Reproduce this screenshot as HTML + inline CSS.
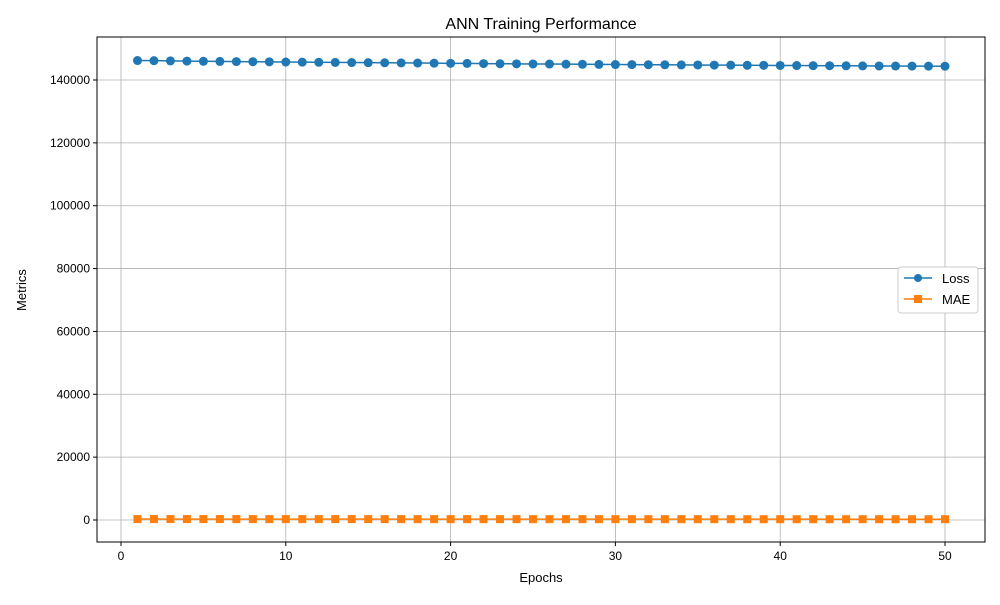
<!DOCTYPE html>
<html><head><meta charset="utf-8"><style>
body{margin:0;background:#fff;font-family:"Liberation Sans","DejaVu Sans",sans-serif;}
text{font-family:"Liberation Sans","DejaVu Sans",sans-serif;}
</style></head><body>
<svg id="chart" width="1000" height="600">
<rect x="0" y="0" width="1000" height="600" fill="#fff"/>
<g id="grid"></g><g id="axes"></g><g id="series"></g>
<text x="541" y="29" text-anchor="middle" font-size="16">ANN Training Performance</text>
<text x="541" y="582" text-anchor="middle" font-size="13">Epochs</text>
<text x="26" y="290" text-anchor="middle" font-size="13" transform="rotate(-90 26 290)">Metrics</text>
<g>
<rect x="898" y="267" width="80" height="46" fill="#fff" stroke="#ccc" rx="3"/>
<line x1="904" y1="278" x2="932" y2="278" stroke="#1f77b4" stroke-width="1.5"/><circle cx="918" cy="278" r="4" fill="#1f77b4"/>
<text x="942" y="283" font-size="13">Loss</text>
<line x1="904" y1="299" x2="932" y2="299" stroke="#ff7f0e" stroke-width="1.5"/><rect x="914" y="295" width="8" height="8" fill="#ff7f0e"/>
<text x="942" y="304" font-size="13">MAE</text>
</g>
</svg>
<script>
const epochs=[];for(let i=1;i<=50;i++)epochs.push(i);
const lossValues=[146200,146150,146080,146020,145960,145910,145860,145820,145780,145720,145680,145640,145600,145560,145520,145480,145440,145400,145350,145300,145270,145230,145190,145150,145110,145080,145040,145000,144960,144930,144900,144870,144840,144800,144780,144750,144720,144690,144660,144630,144600,144570,144540,144520,144490,144460,144440,144420,144400,144380];
const maeValues=[300,299,298,297,296,295,294,293,292,291,290,289,288,287,286,285,284,283,282,281,280,279,278,277,276,275,274,273,272,271,270,269,268,267,266,265,264,263,262,261,260,259,258,257,256,255,254,253,252,251];
const xTicks=[0,10,20,30,40,50];
const yTicks=[0,20000,40000,60000,80000,100000,120000,140000];
const L=97,R=985,T=37,B=542;
const xs=v=>121+(v)*(945-121)/50;
const ys=v=>520-v*440/140000;
const NS="http://www.w3.org/2000/svg";
function mk(tag,attrs,parent){const e=document.createElementNS(NS,tag);for(const k in attrs)e.setAttribute(k,attrs[k]);parent.appendChild(e);return e;}
const grid=document.getElementById('grid'),axes=document.getElementById('axes'),series=document.getElementById('series');
xTicks.forEach(t=>{
 const g=mk('line',{x1:xs(t),x2:xs(t),y1:T,y2:B,stroke:'#b0b0b0','stroke-width':0.8},grid);
 
 
 mk('line',{x1:xs(t),x2:xs(t),y1:B,y2:B+4,stroke:'#000'},axes);
 const tx=mk('text',{x:xs(t),y:B+18,'text-anchor':'middle','font-size':12},axes);tx.textContent=t;
 
 
});
yTicks.forEach(t=>{
 const g=mk('line',{x1:L,x2:R,y1:ys(t),y2:ys(t),stroke:'#b0b0b0','stroke-width':0.8},grid);
 
 
 mk('line',{x1:L-4,x2:L,y1:ys(t),y2:ys(t),stroke:'#000'},axes);
 const tx=mk('text',{x:L-7,y:ys(t)+4,'text-anchor':'end','font-size':12},axes);tx.textContent=t;
 
 
});
const frame=mk('rect',{x:L,y:T,width:R-L,height:B-T,fill:'none',stroke:'#000','stroke-width':1},axes);


const lp=mk('polyline',{points:epochs.map((e,i)=>xs(e)+','+ys(lossValues[i])).join(' '),fill:'none',stroke:'#1f77b4','stroke-width':1.5},series);


const mp=mk('polyline',{points:epochs.map((e,i)=>xs(e)+','+ys(maeValues[i])).join(' '),fill:'none',stroke:'#ff7f0e','stroke-width':1.5},series);


epochs.forEach((e,i)=>{
 const c=mk('circle',{cx:xs(e),cy:ys(lossValues[i]),r:4.5,fill:'#1f77b4'},series);
 
 
 const s=mk('rect',{x:xs(e)-4,y:ys(maeValues[i])-4,width:8,height:8,fill:'#ff7f0e'},series);
 
 
});
</script>
</body></html>
